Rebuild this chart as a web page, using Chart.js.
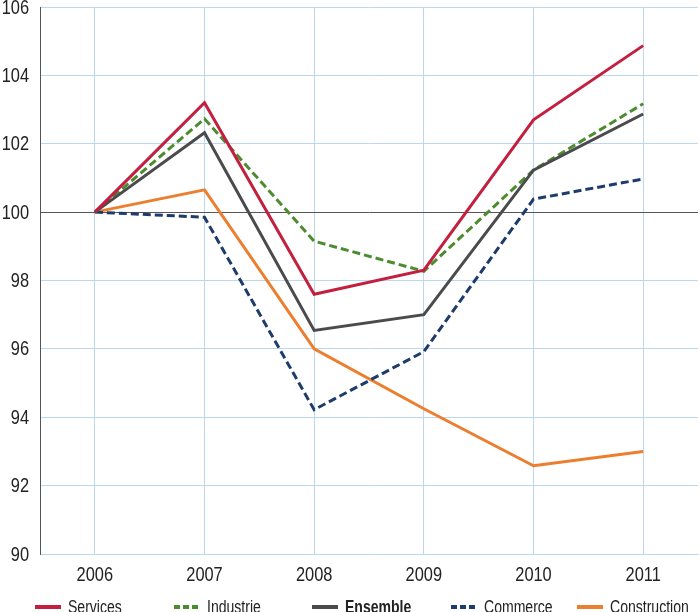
<!DOCTYPE html>
<html>
<head>
<meta charset="utf-8">
<script src="https://cdn.jsdelivr.net/npm/chart.js@4.4.0/dist/chart.umd.min.js"></script>
<style>
  html, body { margin: 0; padding: 0; background: #fff; }
  #wrap { position: relative; width: 700px; height: 612px; overflow: hidden; }
  .item { position: absolute; top: 597px; height: 20px; display: flex; align-items: center; white-space: nowrap;
    font-family: 'Liberation Sans', Arial, sans-serif; font-size: 18px; color: #222; }
  .item svg { margin-right: 7px; flex-shrink: 0; }
  .item span { display: inline-block; transform: scaleX(0.78); transform-origin: left center; }
</style>
</head>
<body>
<div id="wrap">
  <canvas id="chart" width="700" height="612"></canvas>
</div>
<script>
// values (index, 2006 = 100)
const YEARS = ['2006', '2007', '2008', '2009', '2010', '2011'];
const SERVICES = [100, 103.2, 97.6, 98.3, 102.7, 104.87];
const INDUSTRIE = [100, 102.73, 99.15, 98.27, 101.23, 103.17];
const ENSEMBLE = [100, 102.32, 96.54, 97.0, 101.23, 102.87];
const COMMERCE = [100, 99.85, 94.22, 95.92, 100.38, 100.97];
const CONSTRUCTION = [100, 100.65, 96.0, 94.25, 92.58, 93.0];

const FONT = "'Liberation Sans', Arial, sans-serif";
const GRID_BLUE = '#bcd7ee';
const TEXT_SQUEEZE = 0.82;

const series = [
    { label: 'Services', data: SERVICES, color: '#c31f3e', dash: [], bold: false, order: 0 },
    { label: 'Industrie', data: INDUSTRIE, color: '#4d8b2f', dash: [8, 4], bold: false, order: 2 },
    { label: 'Ensemble', data: ENSEMBLE, color: '#4b4b4d', dash: [], bold: true, order: 1 },
    { label: 'Commerce', data: COMMERCE, color: '#1d3b6b', dash: [8, 4], bold: false, order: 3 },
    { label: 'Construction', data: CONSTRUCTION, color: '#ec7f2f', dash: [], bold: false, order: 4 }
];
const legend_left = [35, 174, 312, 451, 577];

const datasets = series.map(s => ({
    label: s.label,
    data: s.data,
    borderColor: s.color,
    backgroundColor: s.color,
    borderWidth: 3,
    borderDash: s.dash,
    pointRadius: 0,
    tension: 0,
    fill: false,
    order: s.order
}));

// tick labels drawn from the scales, squeezed to look like the condensed face
const condensed_ticks = {
    id: 'condensed_ticks',
    afterDraw(chart){
        const ctx = chart.ctx;
        ctx.save();
        ctx.fillStyle = '#222';
        ctx.font = '20px ' + FONT;
        ctx.textBaseline = 'middle';

        const x = chart.scales.x;
        ctx.textAlign = 'center';
        x.ticks.forEach((tick, i) => {
            ctx.save();
            ctx.translate(x.getPixelForTick(i), 575);
            ctx.scale(TEXT_SQUEEZE, 1);
            ctx.fillText(tick.label, 0, 0);
            ctx.restore();
        });

        const y = chart.scales.y;
        ctx.textAlign = 'right';
        y.ticks.forEach((tick, i) => {
            ctx.save();
            ctx.translate(29, y.getPixelForTick(i) + 1);
            ctx.scale(TEXT_SQUEEZE, 1);
            ctx.fillText(tick.label, 0, 0);
            ctx.restore();
        });
        ctx.restore();
    }
};

new Chart(document.getElementById('chart'), {
    type: 'line',
    data: { labels: YEARS, datasets: datasets },
    plugins: [condensed_ticks],
    options: {
        responsive: false,
        animation: false,
        layout: { padding: { top: 7, right: 2, left: 0, bottom: 0 } },
        plugins: { legend: { display: false }, tooltip: { enabled: false } },
        scales: {
            x: {
                offset: true,
                grid: { offset: false, color: GRID_BLUE, lineWidth: 1, drawTicks: false },
                border: { color: GRID_BLUE },
                ticks: { display: false },
                afterFit: axis => { axis.height = 58; }
            },
            y: {
                min: 90,
                max: 106,
                ticks: { stepSize: 2, display: false },
                grid: {
                    drawTicks: false,
                    color: ctx => (ctx.tick && ctx.tick.value === 100) ? '#555555' : GRID_BLUE,
                    lineWidth: 1
                },
                border: { color: '#555555' },
                afterFit: axis => { axis.width = 40; }
            }
        }
    }
});

// legend in html so "Ensemble" can be bold
const wrap = document.getElementById('wrap');
series.forEach((s, i) => {
    const item = document.createElement('div');
    item.className = 'item';
    item.style.left = legend_left[i] + 'px';
    const dash = s.dash.length ? ' stroke-dasharray="6,3"' : '';
    item.innerHTML = '<svg width="26" height="6"><line x1="0" y1="3" x2="26" y2="3" stroke="' + s.color +
        '" stroke-width="4"' + dash + '/></svg>';
    const text = document.createElement('span');
    text.textContent = s.label;
    if (s.bold) text.style.fontWeight = 'bold';
    item.appendChild(text);
    wrap.appendChild(item);
});
</script>
</body>
</html>
